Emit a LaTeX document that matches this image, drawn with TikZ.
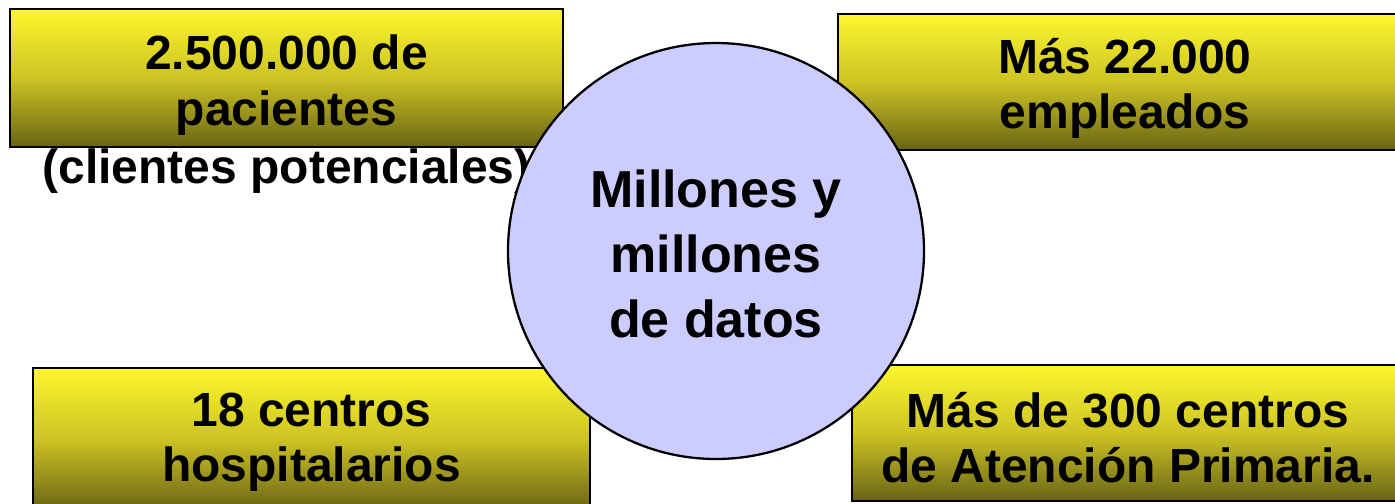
\documentclass[tikz,border=0pt]{standalone}
\usepackage{fontspec}
\setmainfont{Liberation Sans}
\usepackage{tikz}

\definecolor{BoxTop}{RGB}{252,247,45}
\definecolor{BoxMid}{RGB}{205,195,35}
\definecolor{BoxBottom}{RGB}{105,100,22}
\definecolor{DataLilac}{RGB}{204,204,255}

\newcommand{\boxstrut}[1]{\rule{0pt}{#1}}

\tikzset{
  databox/.style={draw=black, line width=1.3pt, top color=BoxTop, bottom color=BoxBottom, middle color=BoxMid,
    inner sep=0pt, align=center, font=\fontsize{27.3}{31.5}\selectfont\bfseries},
  boxtext/.style={inner sep=0pt, align=center, font=\fontsize{27.3}{31.5}\selectfont\bfseries},
  datacircle/.style={circle, draw=black, line width=1.3pt, fill=DataLilac, inner sep=0pt,
    minimum size=8.32cm, align=center, font=\fontsize{29.6}{37}\selectfont\bfseries}
}

\begin{document}
\begin{tikzpicture}
\useasboundingbox (0,0) rectangle (27.9,-10.06);

% the four yellow boxes
\node[databox, minimum width=11.06cm, minimum height=2.76cm] (pacientes) at (5.73,-1.56) {\boxstrut{28pt}2.500.000 de\\pacientes};
\node[databox, minimum width=11.48cm, minimum height=2.72cm] (empleados) at (22.5,-1.64) {\boxstrut{27pt}Más 22.000\\empleados};
\node[databox, minimum width=11.14cm, minimum height=2.84cm] (hospitales) at (6.23,-8.78) {\boxstrut{23pt}18 centros\\hospitalarios};
\node[databox, minimum width=11.04cm, minimum height=2.72cm] (primaria) at (22.56,-8.66) {\boxstrut{25pt}Más de 300 centros\\de Atención Primaria.};
\node[boxtext] (potenciales) at ([yshift=-0.46cm]pacientes.south) {(clientes potenciales)};

% the data in the middle
\node[datacircle] (datos) at (14.32,-5.02) {\boxstrut{25pt}Millones y\\millones\\de datos};
\end{tikzpicture}
\end{document}
